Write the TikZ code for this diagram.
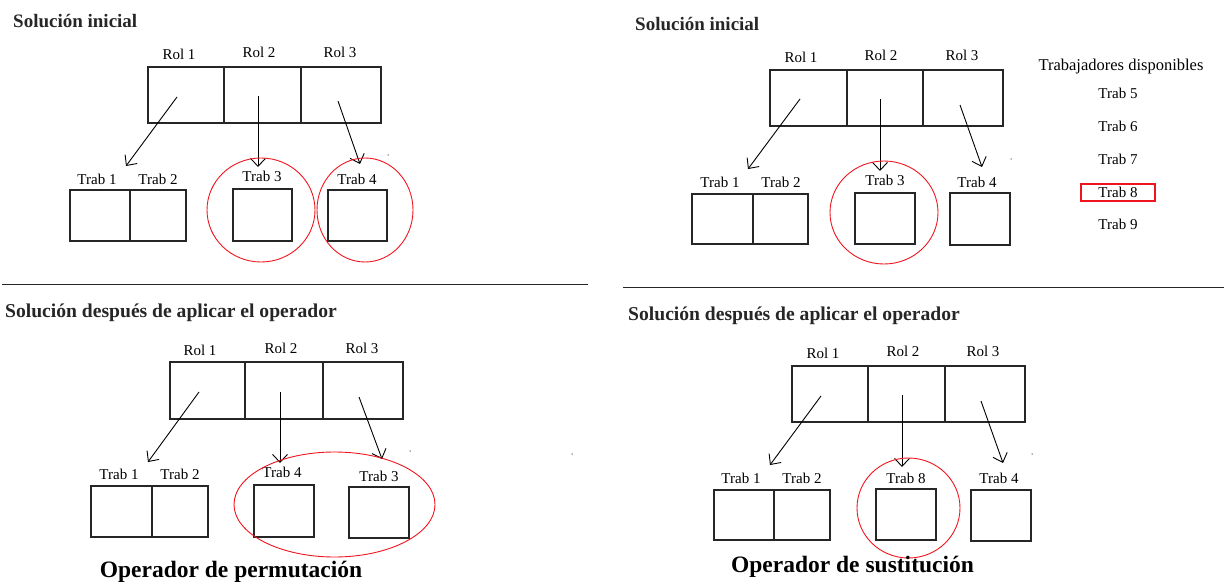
\documentclass[tikz,border=0pt]{standalone}
\usepackage{fontspec}
\setmainfont{Liberation Serif}
\newfontfamily\tnr{Liberation Serif}
\usetikzlibrary{arrows.meta}
\definecolor{ringred}{RGB}{240,20,30}
\tikzset{
  cell/.style={draw=black!85, line width=1.3pt, inner sep=0pt},
  rolstyle/.style={font=\tnr\fontsize{15}{17}\selectfont, inner sep=0pt},
  trabstyle/.style={font=\tnr\fontsize{15}{17}\selectfont, inner sep=0pt},
  titlestyle/.style={font=\tnr\fontsize{19}{22}\selectfont\bfseries, anchor=west, inner sep=0pt, text=black!85},
  longtitle/.style={titlestyle, font=\tnr\fontsize{19.6}{22}\selectfont\bfseries},
  opstyle/.style={font=\tnr\fontsize{23.5}{26}\selectfont\bfseries, inner sep=0pt},
  link/.style={line width=0.9pt, -{Straight Barb[length=8pt,width=15pt,line width=0.9pt]}},
  ring/.style={draw=ringred, line width=0.9pt},
  sepline/.style={line width=1.4pt, draw=black!85},
  speck/.style={fill=black!60, circle, inner sep=0pt, minimum size=1.5pt}
}
\begin{document}
\begin{tikzpicture}[x=1pt, y=-1pt]
\useasboundingbox (0,0) rectangle (1224,583);

% ---------------- Panel 1 ----------------
\node[titlestyle] (t1) at (13,21) {Solución inicial};
\node[cell, minimum width=76pt, minimum height=56pt] (p1r1) at (186,95) {};
\node[cell, minimum width=77pt, minimum height=56pt] (p1r2) at (262.5,95) {};
\node[cell, minimum width=80pt, minimum height=56pt] (p1r3) at (341,95) {};
\node[rolstyle] (p1l1) at (179,54) {Rol 1};
\node[rolstyle] (p1l2) at (259,52) {Rol 2};
\node[rolstyle] (p1l3) at (340,52) {Rol 3};
\node[cell, minimum width=60pt, minimum height=51pt] (p1w1) at (100,215.5) {};
\node[cell, minimum width=56pt, minimum height=51pt] (p1w2) at (158,215.5) {};
\node[cell, minimum width=59pt, minimum height=52pt] (p1w3) at (262.5,215) {};
\node[cell, minimum width=59pt, minimum height=51pt] (p1w4) at (357.5,215.5) {};
\node[trabstyle] (p1k1) at (97,179) {Trab 1};
\node[trabstyle] (p1k2) at (158,179) {Trab 2};
\node[trabstyle] (p1k3) at (262,176) {Trab 3};
\node[trabstyle] (p1k4) at (357,179) {Trab 4};
\coordinate (p1a1s) at (177,97);  \coordinate (p1a1e) at (126,166);
\coordinate (p1a2s) at (258,96);  \coordinate (p1a2e) at (258,167);
\coordinate (p1a3s) at (338,101); \coordinate (p1a3e) at (360,164);
\draw[link] (p1a1s) -- (p1a1e);
\draw[link] (p1a2s) -- (p1a2e);
\draw[link] (p1a3s) -- (p1a3e);
\draw[ring] (261,210) ellipse [x radius=54, y radius=52];
\draw[ring] (365,210) ellipse [x radius=48, y radius=52];
\node[speck] (p1d) at (388,155) {};
\coordinate (s1a) at (2,284.3); \coordinate (s1b) at (588,284.3);
\draw[sepline] (s1a) -- (s1b);

% ---------------- Panel 2 ----------------
\node[titlestyle] (t2) at (635,24) {Solución inicial};
\node[cell, minimum width=77pt, minimum height=56pt] (p2r1) at (808.5,98) {};
\node[cell, minimum width=76pt, minimum height=56pt] (p2r2) at (885,98) {};
\node[cell, minimum width=80pt, minimum height=56pt] (p2r3) at (963,98) {};
\node[rolstyle] (p2l1) at (801,57) {Rol 1};
\node[rolstyle] (p2l2) at (881,55) {Rol 2};
\node[rolstyle] (p2l3) at (962,55) {Rol 3};
\node[cell, minimum width=61pt, minimum height=50pt] (p2w1) at (722.5,219) {};
\node[cell, minimum width=55pt, minimum height=50pt] (p2w2) at (780.5,219) {};
\node[cell, minimum width=60pt, minimum height=51pt] (p2w3) at (885,218.5) {};
\node[cell, minimum width=60pt, minimum height=52pt] (p2w4) at (980,219) {};
\node[trabstyle] (p2k1) at (720,182) {Trab 1};
\node[trabstyle] (p2k2) at (781,182) {Trab 2};
\node[trabstyle] (p2k3) at (885,180) {Trab 3};
\node[trabstyle] (p2k4) at (977,182) {Trab 4};
\coordinate (p2a1s) at (800,99);  \coordinate (p2a1e) at (748,169);
\coordinate (p2a2s) at (880,99);  \coordinate (p2a2e) at (880,171);
\coordinate (p2a3s) at (960,105); \coordinate (p2a3e) at (982,167);
\draw[link] (p2a1s) -- (p2a1e);
\draw[link] (p2a2s) -- (p2a2e);
\draw[link] (p2a3s) -- (p2a3e);
\draw[ring] (884,212.5) ellipse [x radius=54, y radius=51.5];
\node[speck] (p2d) at (1011,159) {};
\node[trabstyle, font=\tnr\fontsize{16.5}{18}\selectfont] (disp) at (1121,67) {Trabajadores disponibles};
\node[trabstyle] (d5) at (1118,93) {Trab 5};
\node[trabstyle] (d6) at (1118,126) {Trab 6};
\node[trabstyle] (d7) at (1118,159) {Trab 7};
\node[trabstyle] (d8) at (1118,192) {Trab 8};
\node[trabstyle] (d9) at (1118,224) {Trab 9};
\node[draw=ringred, line width=1.2pt, minimum width=74pt, minimum height=17pt, inner sep=0pt] (d8box) at (1118,192.5) {};
\coordinate (s2a) at (623,287.5); \coordinate (s2b) at (1224,287.5);
\draw[sepline] (s2a) -- (s2b);

% ---------------- Panel 3 ----------------
\node[longtitle] (t3) at (5,313) {Solución después de aplicar el operador};
\node[cell, minimum width=75pt, minimum height=57pt] (p3r1) at (207.5,390.5) {};
\node[cell, minimum width=78pt, minimum height=57pt] (p3r2) at (284,390.5) {};
\node[cell, minimum width=80pt, minimum height=57pt] (p3r3) at (363,390.5) {};
\node[rolstyle] (p3l1) at (200,350) {Rol 1};
\node[rolstyle] (p3l2) at (281,348) {Rol 2};
\node[rolstyle] (p3l3) at (362,348) {Rol 3};
\node[cell, minimum width=61pt, minimum height=51pt] (p3w1) at (121.5,511.5) {};
\node[cell, minimum width=56pt, minimum height=51pt] (p3w2) at (180,511.5) {};
\node[cell, minimum width=60pt, minimum height=52pt] (p3w4) at (284,511) {};
\node[cell, minimum width=60pt, minimum height=51pt] (p3w3) at (379,512.5) {};
\node[trabstyle] (p3k1) at (119,474) {Trab 1};
\node[trabstyle] (p3k2) at (180,474) {Trab 2};
\node[trabstyle] (p3k4) at (282,472) {Trab 4};
\node[trabstyle] (p3k3) at (379,476) {Trab 3};
\coordinate (p3a1s) at (199,392);  \coordinate (p3a1e) at (148,462);
\coordinate (p3a2s) at (280,392);  \coordinate (p3a2e) at (280,463);
\coordinate (p3a3s) at (359,397);  \coordinate (p3a3e) at (382,459);
\draw[link] (p3a1s) -- (p3a1e);
\draw[link] (p3a2s) -- (p3a2e);
\draw[link] (p3a3s) -- (p3a3e);
\draw[ring] (334.5,504.5) ellipse [x radius=100.5, y radius=52.5];
\node[speck] (p3d1) at (410,451) {};
\node[speck] (p3d2) at (572,454) {};
\node[opstyle] (op1) at (231,572) {Operador de permutación};

% ---------------- Panel 4 ----------------
\node[longtitle] (t4) at (628,316) {Solución después de aplicar el operador};
\node[cell, minimum width=76pt, minimum height=56pt] (p4r1) at (830,394) {};
\node[cell, minimum width=77pt, minimum height=56pt] (p4r2) at (906.5,394) {};
\node[cell, minimum width=80pt, minimum height=56pt] (p4r3) at (985,394) {};
\node[rolstyle] (p4l1) at (823,353) {Rol 1};
\node[rolstyle] (p4l2) at (903,351) {Rol 2};
\node[rolstyle] (p4l3) at (983,351) {Rol 3};
\node[cell, minimum width=60pt, minimum height=50pt] (p4w1) at (744,515) {};
\node[cell, minimum width=56pt, minimum height=50pt] (p4w2) at (802,515) {};
\node[cell, minimum width=60pt, minimum height=51pt] (p4w8) at (906,514.5) {};
\node[cell, minimum width=60pt, minimum height=51pt] (p4w4) at (1001,515.5) {};
\node[trabstyle] (p4k1) at (741,478) {Trab 1};
\node[trabstyle] (p4k2) at (802,478) {Trab 2};
\node[trabstyle] (p4k8) at (906,478) {Trab 8};
\node[trabstyle] (p4k4) at (999,478) {Trab 4};
\coordinate (p4a1s) at (821,396);  \coordinate (p4a1e) at (770,465);
\coordinate (p4a2s) at (902,395);  \coordinate (p4a2e) at (902,467);
\coordinate (p4a3s) at (981,401);  \coordinate (p4a3e) at (1003,463);
\draw[link] (p4a1s) -- (p4a1e);
\draw[link] (p4a2s) -- (p4a2e);
\draw[link] (p4a3s) -- (p4a3e);
\draw[ring] (908.5,508) ellipse [x radius=51.5, y radius=50];
\node[speck] (p4d) at (1032,454) {};
\node[opstyle] (op2) at (852.5,567) {Operador de sustitución};
\end{tikzpicture}
\end{document}
